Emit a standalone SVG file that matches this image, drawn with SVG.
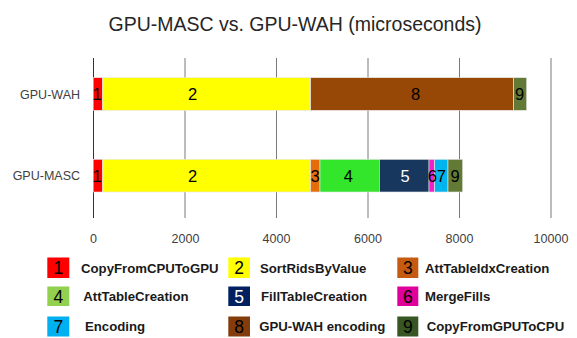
<svg xmlns="http://www.w3.org/2000/svg" width="577" height="338" viewBox="0 0 577 338">
<style>
text{font-family:"Liberation Sans",Arial,sans-serif}
.title{font-size:19.5px;fill:#262626;text-anchor:middle}
.cat{font-size:12.5px;fill:#404040;text-anchor:end}
.tick{font-size:12.5px;fill:#404040;text-anchor:middle}
.grid{stroke:#7a7a7a;stroke-width:1}
.seg{stroke:#e8e8e8;stroke-width:0.6}
.bl{font-size:16.5px;fill:#000;text-anchor:middle;dominant-baseline:central}
.ln{font-size:17.5px;fill:#000;text-anchor:middle;dominant-baseline:central}
.lt{font-size:13.2px;font-weight:bold;fill:#1a1a1a;dominant-baseline:central}
.w{fill:#fff}
</style>
<rect width="577" height="338" fill="#fff"/>
<text class="title" x="295" y="31">GPU-MASC vs. GPU-WAH (microseconds)</text>
<g id="grid">
<line class="grid" x1="93.5" y1="58" x2="93.5" y2="218" style="stroke:#333"/>
<line class="grid" x1="185" y1="58" x2="185" y2="218"/>
<line class="grid" x1="276.5" y1="58" x2="276.5" y2="218"/>
<line class="grid" x1="368" y1="58" x2="368" y2="218"/>
<line class="grid" x1="459.5" y1="58" x2="459.5" y2="218"/>
<line class="grid" x1="551" y1="58" x2="551" y2="218"/>
</g>
<g id="axis-labels">
<text class="tick" x="93.5" y="243">0</text>
<text class="tick" x="185.5" y="243">2000</text>
<text class="tick" x="276.5" y="243">4000</text>
<text class="tick" x="368" y="243">6000</text>
<text class="tick" x="459.5" y="243">8000</text>
<text class="tick" x="551" y="243">10000</text>
<text class="cat" x="80" y="98.5">GPU-WAH</text>
<text class="cat" x="80" y="180">GPU-MASC</text>
</g>
<g id="bar-wah">
<rect class="seg" x="93.5" y="77.7" width="9.2" height="32.6" fill="#ff0000"/>
<rect class="seg" x="102.7" y="77.7" width="208" height="32.6" fill="#ffff00"/>
<rect class="seg" x="310.7" y="77.7" width="203" height="32.6" fill="#974706"/>
<rect class="seg" x="513.7" y="77.7" width="13" height="32.6" fill="#637a36"/>
<text class="bl" x="97" y="94">1</text>
<text class="bl" x="192.7" y="94">2</text>
<text class="bl" x="415.7" y="94">8</text>
<text class="bl" x="519.7" y="94">9</text>
</g>
<g id="bar-masc">
<rect class="seg" x="93.5" y="159.3" width="9.2" height="32.7" fill="#ff0000"/>
<rect class="seg" x="102.7" y="159.3" width="208" height="32.7" fill="#ffff00"/>
<rect class="seg" x="310.7" y="159.3" width="9.3" height="32.7" fill="#e46c0a"/>
<rect class="seg" x="320" y="159.3" width="59.3" height="32.7" fill="#33e62b"/>
<rect class="seg" x="379.3" y="159.3" width="49.7" height="32.7" fill="#17375e"/>
<rect class="seg" x="429" y="159.3" width="5.7" height="32.7" fill="#f020c8"/>
<rect class="seg" x="434.7" y="159.3" width="13.3" height="32.7" fill="#00b4f0"/>
<rect class="seg" x="448" y="159.3" width="14.7" height="32.7" fill="#637a36"/>
<text class="bl" x="97" y="175.7">1</text>
<text class="bl" x="192.7" y="175.7">2</text>
<text class="bl" x="315" y="175.7">3</text>
<text class="bl" x="348.3" y="175.7">4</text>
<text class="bl w" x="405" y="175.7">5</text>
<text class="bl" x="432.3" y="175.7">6</text>
<text class="bl" x="441.3" y="175.7">7</text>
<text class="bl" x="455" y="175.7">9</text>
</g>
<g id="legend">
<g id="leg1"><rect x="47.3" y="257.5" width="22" height="20.5" fill="#ff0000"/><text class="ln" x="58.3" y="268">1</text><text class="lt" x="81" y="268">CopyFromCPUToGPU</text></g>
<g id="leg2"><rect x="228.3" y="257.5" width="21.7" height="20.5" fill="#ffff00"/><text class="ln" x="239.2" y="268">2</text><text class="lt" x="260" y="268">SortRidsByValue</text></g>
<g id="leg3"><rect x="397.3" y="257.5" width="21" height="20.5" fill="#c55a11"/><text class="ln" x="407.8" y="268">3</text><text class="lt" x="425" y="268">AttTableIdxCreation</text></g>
<g id="leg4"><rect x="47.3" y="286.5" width="22" height="19.5" fill="#92d050"/><text class="ln" x="58.3" y="296.5">4</text><text class="lt" x="83.3" y="296.5">AttTableCreation</text></g>
<g id="leg5"><rect x="228.3" y="286.5" width="21.7" height="19.5" fill="#002060"/><text class="ln w" x="239.2" y="296.5">5</text><text class="lt" x="261" y="296.5">FillTableCreation</text></g>
<g id="leg6"><rect x="397.3" y="286.5" width="21" height="19.5" fill="#e0009a"/><text class="ln" x="407.8" y="296.5">6</text><text class="lt" x="425" y="296.5">MergeFills</text></g>
<g id="leg7"><rect x="47.3" y="316.5" width="22" height="20" fill="#00b0f0"/><text class="ln" x="58.3" y="326.5">7</text><text class="lt" x="85" y="326.5">Encoding</text></g>
<g id="leg8"><rect x="228.3" y="316.5" width="21.7" height="20" fill="#843c0c"/><text class="ln" x="239.2" y="326.5">8</text><text class="lt" x="259.3" y="326.5">GPU-WAH encoding</text></g>
<g id="leg9"><rect x="397.3" y="316.5" width="21" height="20" fill="#375623"/><text class="ln" x="407.8" y="326.5">9</text><text class="lt" x="426.7" y="326.5">CopyFromGPUToCPU</text></g>
</g>
</svg>
